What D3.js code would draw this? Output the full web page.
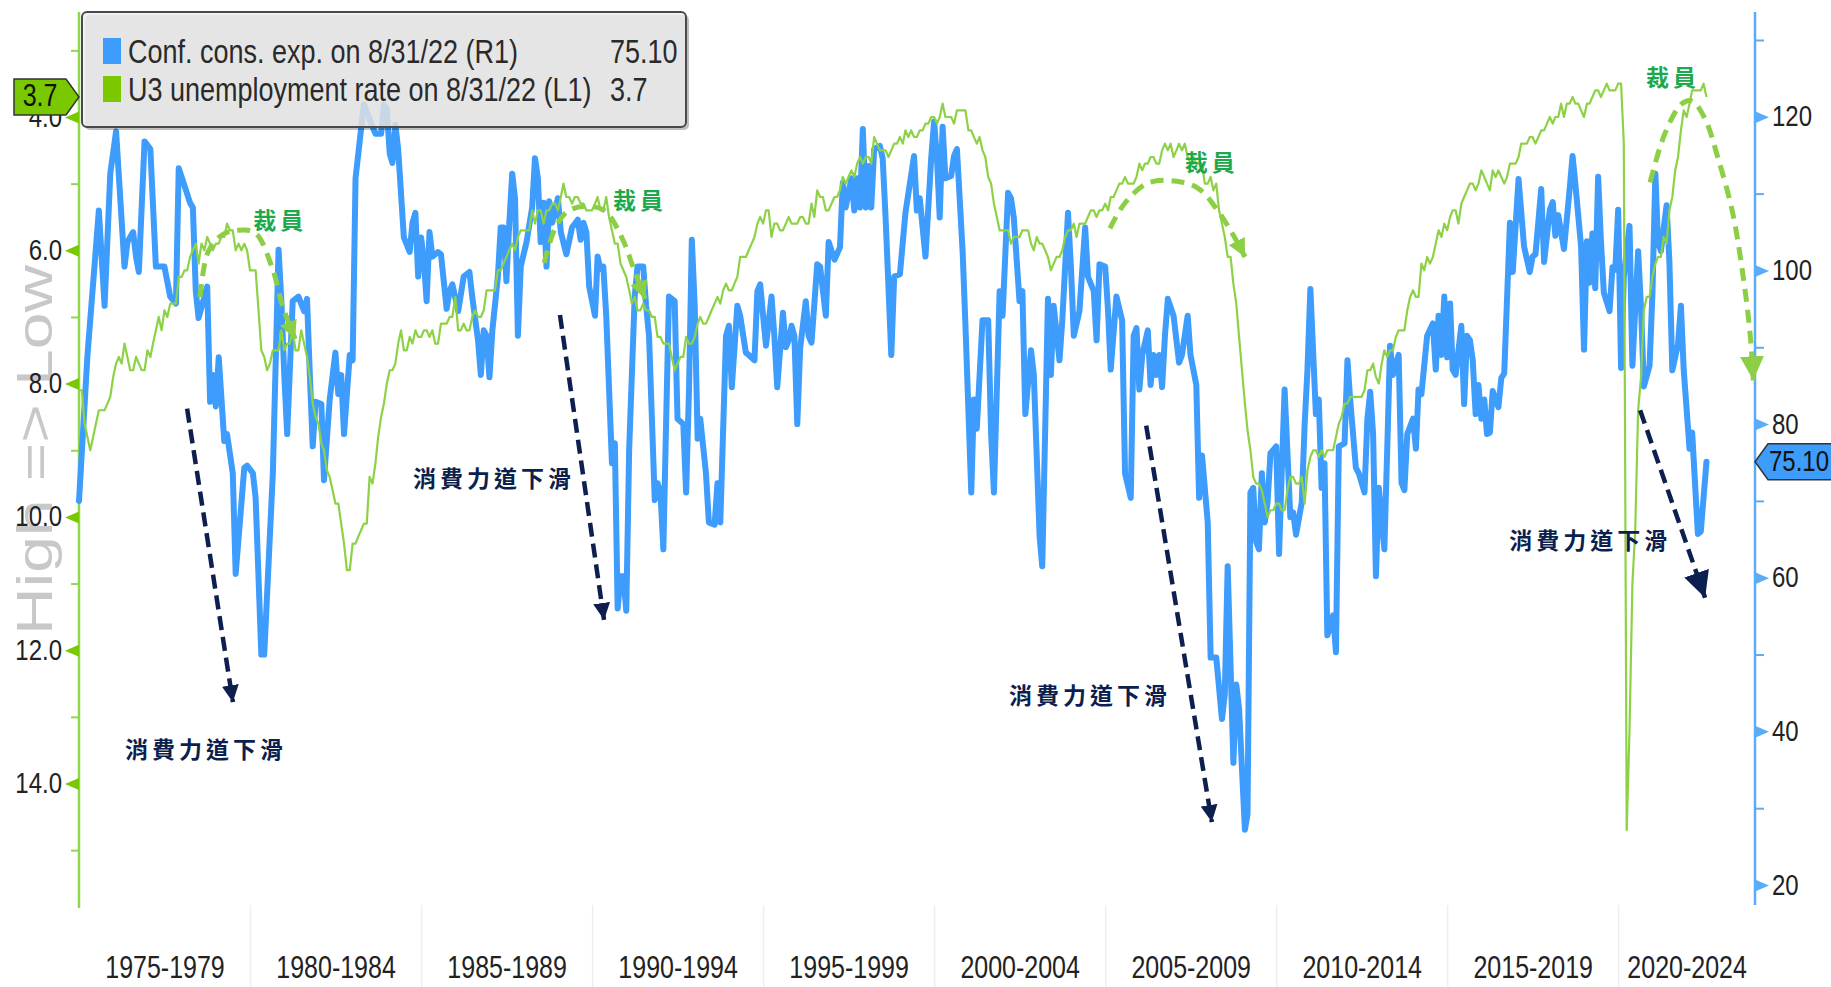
<!DOCTYPE html>
<html><head><meta charset="utf-8">
<script src="https://cdn.jsdelivr.net/npm/d3@7"></script>
<style>body{margin:0;background:#fff;overflow:hidden}svg{display:block}</style>
</head><body>
<svg id="chart" width="1831" height="987"></svg>
<script>
// ---------------- DATA ----------------
const periodStarts = [1975,1980,1985,1990,1995,2000,2005,2010,2015,2020];
const periodLabels = ["1975-1979","1980-1984","1985-1989","1990-1994","1995-1999","2000-2004","2005-2009","2010-2014","2015-2019","2020-2024"];
const leftTicks = [4,6,8,10,12,14];
const leftMinor = [3,5,7,9,11,13,15];
const rightTicks = [20,40,60,80,100,120];
const rightMinor = [30,50,70,90,110,130];

const legendLabels = ["Conf. cons. exp. on 8/31/22 (R1)","U3 unemployment rate on 8/31/22 (L1)"];
const legendValues = ["75.10","3.7"];
const lastConf = 75.10, lastUnrate = 3.7;

// U3 unemployment rate, monthly from 1975-01 (L1)
const unrateStart = "1975-01";
const unrate = [
8.1,8.1,8.6,8.8,9.0,8.8,8.6,8.4,8.4,8.4,8.3,8.2,
7.9,7.7,7.6,7.7,7.4,7.6,7.8,7.8,7.6,7.7,7.8,7.8,
7.5,7.6,7.4,7.2,7.0,7.2,6.9,7.0,6.8,6.8,6.8,6.4,
6.4,6.3,6.3,6.1,6.0,5.9,6.2,5.9,6.0,5.8,5.9,6.0,
5.9,5.9,5.8,5.8,5.6,5.7,5.7,6.0,5.9,6.0,5.9,6.0,
6.3,6.3,6.3,6.9,7.5,7.6,7.8,7.7,7.5,7.5,7.5,7.2,
7.5,7.4,7.4,7.2,7.5,7.5,7.2,7.4,7.6,7.9,8.3,8.5,
8.6,8.9,9.0,9.3,9.4,9.6,9.8,9.8,10.1,10.4,10.8,10.8,
10.4,10.4,10.3,10.2,10.1,10.1,9.4,9.5,9.2,8.8,8.5,8.3,
8.0,7.8,7.8,7.7,7.4,7.2,7.5,7.5,7.3,7.4,7.2,7.3,
7.3,7.2,7.2,7.3,7.2,7.4,7.4,7.1,7.1,7.1,7.0,7.0,
6.7,7.2,7.2,7.1,7.2,7.2,7.0,6.9,7.0,7.0,6.9,6.6,
6.6,6.6,6.6,6.3,6.3,6.2,6.1,6.0,5.9,6.0,5.8,5.7,
5.7,5.7,5.7,5.4,5.6,5.4,5.4,5.6,5.4,5.4,5.3,5.3,
5.4,5.2,5.0,5.2,5.2,5.3,5.2,5.2,5.3,5.3,5.4,5.4,
5.4,5.3,5.2,5.4,5.4,5.2,5.5,5.7,5.9,5.9,6.2,6.3,
6.4,6.6,6.8,6.7,6.9,6.9,6.8,6.9,6.9,7.0,7.0,7.3,
7.3,7.4,7.4,7.4,7.6,7.8,7.7,7.6,7.6,7.3,7.4,7.4,
7.3,7.1,7.0,7.1,7.1,7.0,6.9,6.8,6.7,6.8,6.6,6.5,
6.6,6.6,6.5,6.4,6.1,6.1,6.1,6.0,5.9,5.8,5.6,5.5,
5.6,5.4,5.4,5.8,5.6,5.6,5.7,5.7,5.6,5.5,5.6,5.6,
5.6,5.5,5.5,5.6,5.6,5.3,5.5,5.1,5.2,5.2,5.4,5.4,
5.3,5.2,5.2,5.1,4.9,5.0,4.9,4.8,4.9,4.7,4.6,4.7,
4.6,4.6,4.7,4.3,4.4,4.5,4.5,4.5,4.6,4.5,4.4,4.4,
4.3,4.4,4.2,4.3,4.2,4.3,4.3,4.2,4.2,4.1,4.1,4.0,
4.0,4.1,4.0,3.8,4.0,4.0,4.0,4.1,3.9,3.9,3.9,3.9,
4.2,4.2,4.3,4.4,4.3,4.5,4.6,4.9,5.0,5.3,5.5,5.7,
5.7,5.7,5.7,5.9,5.8,5.8,5.8,5.7,5.7,5.7,5.9,6.0,
5.8,5.9,5.9,6.0,6.1,6.3,6.2,6.1,6.1,6.0,5.8,5.7,
5.7,5.6,5.8,5.6,5.6,5.6,5.5,5.4,5.4,5.5,5.4,5.4,
5.3,5.4,5.2,5.2,5.1,5.0,5.0,4.9,5.0,5.0,5.0,4.9,
4.7,4.8,4.7,4.7,4.6,4.6,4.7,4.7,4.5,4.4,4.5,4.4,
4.6,4.5,4.4,4.5,4.4,4.6,4.7,4.6,4.7,4.7,4.7,5.0,
5.0,4.9,5.1,5.0,5.4,5.6,5.8,6.1,6.1,6.5,6.8,7.3,
7.8,8.3,8.7,9.0,9.4,9.5,9.5,9.6,9.8,10.0,9.9,9.9,
9.8,9.8,9.9,9.9,9.6,9.4,9.4,9.5,9.5,9.4,9.8,9.3,
9.1,9.0,9.0,9.1,9.0,9.1,9.0,9.0,9.0,8.8,8.6,8.5,
8.3,8.3,8.2,8.2,8.2,8.2,8.2,8.1,7.8,7.8,7.7,7.9,
8.0,7.7,7.5,7.6,7.5,7.5,7.3,7.2,7.2,7.2,6.9,6.7,
6.6,6.7,6.7,6.2,6.3,6.1,6.2,6.1,5.9,5.7,5.8,5.6,
5.7,5.5,5.4,5.4,5.6,5.3,5.2,5.1,5.0,5.0,5.1,5.0,
4.8,4.9,5.0,5.1,4.8,4.9,4.8,4.9,5.0,4.9,4.7,4.7,
4.7,4.6,4.4,4.4,4.4,4.3,4.3,4.4,4.3,4.2,4.2,4.1,
4.0,4.1,4.0,4.0,3.8,4.0,3.8,3.8,3.7,3.8,3.8,3.9,
4.0,3.8,3.8,3.7,3.6,3.6,3.7,3.6,3.5,3.6,3.6,3.6,
3.5,3.5,4.4,14.7,13.2,11.0,10.2,8.4,7.9,6.9,6.7,6.7,
6.4,6.2,6.1,6.1,5.8,5.9,5.4,5.2,4.8,4.6,4.2,3.9,
4.0,3.8,3.6,3.6,3.6,3.6,3.5,3.7
];

// Conference Board consumer expectations (R1)
const confExp = [
["1975-01",70],["1975-04",88.9],["1975-08",107.8],["1975-10",95.4],["1975-12",112.6],
["1976-02",118.1],["1976-05",100.5],["1976-06",103.7],["1976-08",105],["1976-09",101.8],["1976-10",99.8],["1976-12",116.8],
["1977-02",115.8],["1977-04",100.5],["1977-07",100.5],["1977-09",96.6],["1977-11",95.7],["1977-12",113.3],
["1978-02",111],["1978-04",108.8],["1978-05",108.2],["1978-06",97.3],["1978-07",93.8],["1978-09",96.6],["1978-10",97.9],["1978-11",82.9],["1978-12",86.4],
["1979-01",82.3],["1979-02",88.7],["1979-04",77.8],["1979-05",78.7],["1979-07",73.6],["1979-08",60.5],["1979-11",74.3],["1979-12",74.6],
["1980-02",73.6],["1980-03",70.4],["1980-05",50],["1980-06",50],["1980-09",73.6],["1980-11",102.7],["1980-12",96],
["1981-01",86.4],["1981-02",78.7],["1981-04",96],["1981-06",96.6],["1981-08",94.7],["1981-09",96.3],["1981-10",86.4],["1981-11",77.1],["1981-12",82.9],
["1982-02",82.6],["1982-03",72.7],["1982-05",83.2],["1982-07",89.3],["1982-08",83.9],["1982-09",86.4],["1982-10",78.7],["1982-12",89],
["1983-01",88.3],["1983-02",112],["1983-04",118.4],["1983-05",121.6],["1983-07",119.7],["1983-09",117.8],["1983-11",117.8],["1983-12",121.6],
["1984-01",121],["1984-02",115.2],["1984-03",114],["1984-04",119],["1984-05",115.8],["1984-07",104.3],["1984-09",102.4],["1984-10",106.2],["1984-11",107.5],["1984-12",99.2],
["1985-01",104.3],["1985-02",101.1],["1985-03",96],["1985-04",105],["1985-05",101.8],["1985-07",102.4],["1985-08",102.1],["1985-10",95],["1985-11",97.3],["1985-12",98.2],
["1986-02",94.7],["1986-04",99.2],["1986-06",99.8],["1986-07",96.6],["1986-09",90.9],["1986-10",86.4],["1986-11",92.2],["1986-12",91.5],
["1987-01",86.1],["1987-02",92.2],["1987-04",99.2],["1987-05",105.6],["1987-06",105.6],["1987-07",98.6],["1987-08",106.2],["1987-09",112.6],["1987-10",109.4],["1987-11",91.5],["1987-12",100.5],
["1988-02",103.7],["1988-04",108.2],["1988-05",114.6],["1988-06",112],["1988-07",103.7],["1988-08",108.8],["1988-09",100.5],["1988-10",109],["1988-11",106.2],
["1989-01",109.4],["1989-02",105],["1989-04",102.1],["1989-06",105.6],["1989-08",106.6],["1989-09",104],["1989-10",106.2],["1989-11",105],["1989-12",97.9],
["1990-02",94.1],["1990-03",101.8],["1990-04",100.2],["1990-05",100.5],["1990-06",94.1],["1990-08",74.9],["1990-09",77.5],["1990-10",56],["1990-11",60.2],["1990-12",60.2],
["1991-01",55.7],["1991-02",76.8],["1991-04",96.6],["1991-05",100.5],["1991-07",100.5],["1991-08",95.4],["1991-09",91.5],["1991-11",70.1],["1991-12",72.3],
["1992-01",71.1],["1992-02",63.7],["1992-03",80],["1992-04",96.6],["1992-06",96],["1992-07",80.7],["1992-09",80],["1992-10",71.1],["1992-11",84.5],["1992-12",104],
["1993-01",95.4],["1993-02",78.1],["1993-03",80.7],["1993-05",73.6],["1993-06",67.2],["1993-08",66.9],["1993-09",72.3],["1993-10",67.2],["1993-12",91.5],
["1994-01",92.8],["1994-02",84.8],["1994-04",95.4],["1994-05",94.1],["1994-07",89.3],["1994-08",89],["1994-10",88.3],["1994-11",97.3],["1994-12",98.2],
["1995-01",94.1],["1995-02",90.2],["1995-04",96.6],["1995-05",91.5],["1995-06",84.8],["1995-08",94.5],["1995-09",90],["1995-10",90.9],["1995-11",92.8],["1995-12",91.5],
["1996-01",80],["1996-02",89.9],["1996-04",96],["1996-05",91.5],["1996-06",90.6],["1996-08",100.8],["1996-09",100.5],["1996-11",94.1],["1996-12",103.7],
["1997-02",101.4],["1997-04",103],["1997-05",111.4],["1997-06",108.2],["1997-08",112],["1997-09",107.8],["1997-10",112],["1997-11",108.2],["1997-12",118.4],
["1998-01",108.2],["1998-02",113.6],["1998-03",108.2],["1998-04",115.8],["1998-06",116.2],["1998-07",114.6],["1998-08",106.9],["1998-10",89],["1998-11",99.2],
["1999-01",99.5],["1999-03",107.5],["1999-06",114.9],["1999-07",107.8],["1999-08",109.4],["1999-10",101.8],["1999-12",114.6],
["2000-01",119.4],["2000-02",114.6],["2000-03",106.9],["2000-04",118.7],["2000-05",112],["2000-07",112.3],["2000-08",114.9],["2000-09",115.8],["2000-11",102.4],["2000-12",92.8],
["2001-02",71.1],["2001-03",83.2],["2001-04",79.4],["2001-06",93.5],["2001-08",93.5],["2001-09",78.7],["2001-10",71.1],["2001-12",97.3],
["2002-01",94.1],["2002-03",110.1],["2002-04",109.4],["2002-05",106.9],["2002-07",96],["2002-08",97.3],["2002-09",81.3],["2002-11",89.6],["2002-12",86.4],
["2003-02",65.3],["2003-03",61.5],["2003-05",96.3],["2003-06",86.4],["2003-07",95.4],["2003-09",88.3],["2003-10",93.5],["2003-12",107.5],
["2004-01",100.5],["2004-02",91.5],["2004-04",94.7],["2004-06",105.6],["2004-07",99.2],["2004-09",97.3],["2004-10",90.9],["2004-11",100.8],
["2005-01",100.5],["2005-02",94.7],["2005-03",87.1],["2005-05",96.6],["2005-07",93.5],["2005-08",73.6],["2005-10",70.4],["2005-11",91.5],["2005-12",92.5],
["2006-01",84.5],["2006-02",89],["2006-04",92.2],["2006-05",85.1],["2006-06",89],["2006-07",86.4],["2006-08",89],["2006-09",84.8],["2006-10",91.5],["2006-11",96.3],
["2007-01",94.1],["2007-03",88],["2007-04",89],["2007-06",94.1],["2007-07",89],["2007-09",85.1],["2007-10",70.4],["2007-11",75.9],
["2008-01",67.2],["2008-02",49.6],["2008-04",49.6],["2008-06",41.6],["2008-07",44.8],["2008-08",61.5],["2008-10",35.9],["2008-11",46.1],["2008-12",42.9],
["2009-02",27.2],["2009-03",29.2],["2009-04",71.1],["2009-05",71.7],["2009-06",64.7],["2009-07",63.7],["2009-08",73.6],["2009-09",67.2],["2009-10",69.8],["2009-11",76.2],
["2010-01",77.1],["2010-02",63.1],["2010-03",73.6],["2010-04",84.5],["2010-06",67.9],["2010-07",68.5],["2010-08",65.6],["2010-10",69.8],["2010-11",80],["2010-12",87.1],
["2011-01",97.6],["2011-03",81.3],["2011-04",83.2],["2011-05",71.7],["2011-06",74.9],["2011-07",52.5],["2011-09",55.1],["2011-10",50.3],["2011-11",77.1],
["2012-01",77.5],["2012-02",88.3],["2012-03",83.2],["2012-05",74.3],["2012-06",73.6],["2012-08",71.1],["2012-09",80.7],["2012-10",84.2],["2012-11",78.7],["2012-12",60.2],
["2013-01",71.7],["2013-03",63.7],["2013-04",76.8],["2013-05",90.2],["2013-06",86.4],["2013-08",89],["2013-09",72.3],["2013-10",71.4],["2013-11",78.7],
["2014-01",80.7],["2014-02",76.8],["2014-03",84.5],["2014-04",83.9],["2014-06",91.5],["2014-08",93.1],["2014-09",87.1],["2014-10",94.1],["2014-11",89],["2014-12",96.6],
["2015-01",88.7],["2015-02",95.7],["2015-03",87.1],["2015-04",86.4],["2015-06",92.8],["2015-07",82.6],["2015-08",91.5],["2015-09",90.9],["2015-10",88.3],["2015-11",81.3],["2015-12",85.1],
["2016-01",80.7],["2016-02",83.2],["2016-03",78.7],["2016-04",78.9],["2016-05",84.3],["2016-07",82.2],["2016-08",86],["2016-09",86.6],["2016-11",106.2],["2016-12",99.8],
["2017-02",111.9],["2017-04",103.1],["2017-06",99.8],["2017-07",101.8],["2017-08",102.1],["2017-10",110.6],["2017-11",101.1],
["2018-01",107.9],["2018-02",108.9],["2018-03",104.5],["2018-04",107.2],["2018-06",102.8],["2018-08",110.6],["2018-09",114.9],["2018-10",111.2],["2018-12",103.1],
["2019-01",89.7],["2019-02",103.8],["2019-03",98.4],["2019-04",104.8],["2019-05",97.7],["2019-06",112.2],["2019-07",103.8],["2019-08",97.1],["2019-10",94.7],["2019-11",100.4],["2019-12",100.1],
["2020-01",107.9],["2020-02",87.3],["2020-03",99.1],["2020-05",105.8],["2020-06",87.6],["2020-08",102.5],["2020-09",95.1],["2020-10",84.9],["2020-12",87.6],
["2021-01",97.1],["2021-02",112.6],["2021-03",103.8],["2021-04",102.5],["2021-06",108.5],["2021-07",101.1],["2021-08",87],["2021-10",90.4],["2021-11",95.4],["2021-12",87],
["2022-02",76.8],["2022-03",78.9],["2022-05",65.7],["2022-06",66],["2022-08",75.1]
];

// Annotations (decimal year, axis value)
const slideText = "消費力道下滑";
const slideArrows = [ // from [year, R1] to [year, R1]
  [[1978.16,82.0],[1979.50,43.8]],
  [[1989.06,94.2],[1990.35,54.5]],
  [[2006.20,79.8],[2008.12,28.2]],
  [[2020.64,81.8],[2022.54,57.4]]
];
const slideLabels = [[1978.71,37.6],[1987.13,72.9],[2004.56,44.7],[2019.18,64.8]];
const layoffText = "裁員";
const layoffLabels = [[1980.88,5.56],[1991.40,5.26],[2008.12,4.69],[2021.60,3.41]]; // [year, L1]
const layoffArcs = [ // [year, L1]
  [[1978.54,6.70],[1978.77,6.03],[1979.18,5.77],[1979.65,5.70],[1980.15,5.74],[1980.64,6.25],[1980.96,6.85],[1981.32,7.33]],
  [[1988.60,6.19],[1988.92,5.67],[1989.30,5.41],[1989.88,5.34],[1990.38,5.41],[1990.88,5.82],[1991.20,6.25],[1991.55,6.73]],
  [[2005.14,5.67],[2005.58,5.29],[2006.25,4.99],[2007.04,4.96],[2007.72,5.07],[2008.30,5.41],[2008.71,5.74],[2009.09,6.10]],
  [[2020.93,4.98],[2021.37,4.24],[2021.86,3.80],[2022.16,3.76],[2022.54,4.03],[2022.92,4.62],[2023.33,5.40],[2023.62,6.27],[2023.86,7.27],[2023.95,7.95]]
];

// ---------------- CHART ----------------
const W = 1831, H = 987;
const C = {
  blue: "#3d9cfc", blueAxis: "#5aacf8", green: "#8dd246", greenAxis: "#8fd84a",
  greenTag: "#7ac800", navy: "#0d1f4e", arcGreen: "#8ccf45", layoffGreen: "#1ea84c",
  text: "#222"
};
const FONT = "'Liberation Sans', Arial, sans-serif";
const CJK = "'Noto Sans CJK TC','Noto Sans CJK SC',sans-serif";
const SY = 1.25;

const parseMonth = d3.timeParse("%Y-%m");
function yearDate(y){ const y0=Math.floor(y); const a=new Date(y0,0,1), b=new Date(y0+1,0,1); return new Date(+a + (y-y0)*(b-a)); }

const x = d3.scaleTime().domain([new Date(1975,0,1), new Date(2024,0,1)]).range([79,1755]);
const yL = d3.scaleLinear().domain([4,14]).range([117,783.5]);
const yR = d3.scaleLinear().domain([20,120]).range([885,116.8]);

const svg = d3.select("#chart");
svg.append("rect").attr("width",W).attr("height",H).attr("fill","#fff");

const defs = svg.append("defs");
function marker(id, color, size){
  defs.append("marker").attr("id",id).attr("markerUnits","userSpaceOnUse")
    .attr("viewBox","0 0 10 10").attr("refX",10).attr("refY",5)
    .attr("markerWidth",size).attr("markerHeight",size).attr("orient","auto")
    .append("path").attr("d","M0,0L10,5L0,10Z").attr("fill",color);
}
marker("headNavy", C.navy, 17);
marker("headNavyBig", C.navy, 26);
marker("headGreen", C.arcGreen, 18);
marker("headGreenBig", C.arcGreen, 24);

// x separators + labels
const bounds = periodStarts.slice(1).map(y => new Date(y,0,1));
const gSep = svg.append("g").attr("transform","translate(0,905)")
  .call(d3.axisBottom(x).tickValues(bounds).tickSize(82).tickFormat(""));
gSep.select(".domain").remove();
gSep.selectAll(".tick line").attr("stroke","#eeeeee").attr("stroke-width",1.5);

const centers = periodStarts.map(y => {
  const a = x(new Date(y,0,1)), b = Math.min(x(new Date(y+5,0,1)), x.range()[1]);
  return x.invert((a+b)/2);
});
const gX = svg.append("g").attr("transform","translate(0,905)")
  .call(d3.axisBottom(x).tickValues(centers).tickSize(0).tickFormat((d,i)=>periodLabels[i]));
gX.select(".domain").remove();
gX.attr("font-family",FONT).attr("font-size",25);
gX.selectAll(".tick text").attr("y",null).attr("dy",null).attr("fill",C.text)
  .attr("transform",`translate(0,73) scale(1,${SY})`);

// "High => Low" rotated label
svg.append("text").attr("transform","translate(52,450) rotate(-90)")
  .attr("text-anchor","middle").attr("font-family",FONT).attr("font-size",50)
  .attr("textLength",370).attr("lengthAdjust","spacingAndGlyphs")
  .attr("fill","#c8c8c8").text("High => Low");

// Left axis (L1)
const gL = svg.append("g").attr("transform","translate(79,0)");
gL.append("line").attr("y1",12).attr("y2",908).attr("stroke",C.greenAxis).attr("stroke-width",2.5);
const gLm = gL.append("g").call(d3.axisLeft(yL).tickValues(leftMinor).tickSize(8).tickFormat(""));
gLm.select(".domain").remove();
gLm.selectAll(".tick line").attr("stroke",C.greenAxis).attr("stroke-width",2);
const gLM = gL.append("g").call(d3.axisLeft(yL).tickValues(leftTicks).tickSize(0).tickPadding(17).tickFormat(d3.format(".1f")));
gLM.select(".domain").remove();
gLM.attr("font-family",FONT).attr("font-size",24);
gLM.selectAll(".tick").append("path").attr("d","M0,-6L-14,0L0,6Z").attr("fill",C.greenTag);
gLM.selectAll(".tick text").attr("fill",C.text).attr("dy","0.3em")
  .attr("transform",`scale(1,${SY})`);

// Right axis (R1)
const gR = svg.append("g").attr("transform","translate(1755,0)");
gR.append("line").attr("y1",12).attr("y2",905).attr("stroke",C.blueAxis).attr("stroke-width",2.5);
const gRm = gR.append("g").call(d3.axisRight(yR).tickValues(rightMinor).tickSize(9).tickFormat(""));
gRm.select(".domain").remove();
gRm.selectAll(".tick line").attr("stroke",C.blueAxis).attr("stroke-width",2);
const gRM = gR.append("g").call(d3.axisRight(yR).tickValues(rightTicks).tickSize(0).tickPadding(17).tickFormat(d3.format("d")));
gRM.select(".domain").remove();
gRM.attr("font-family",FONT).attr("font-size",24);
gRM.selectAll(".tick").append("path").attr("d","M0,-6L14,0L0,6Z").attr("fill",C.blueAxis);
gRM.selectAll(".tick text").attr("fill",C.text).attr("dy","0.3em")
  .attr("transform",`scale(1,${SY})`);

// Series
const confData = confExp.map(d => ({date: parseMonth(d[0]), value: d[1]}));
const startM = parseMonth(unrateStart);
const unData = unrate.map((v,i) => ({date: d3.timeMonth.offset(startM,i), value: v}));

svg.append("path").datum(confData)
  .attr("fill","none").attr("stroke",C.blue).attr("stroke-width",6)
  .attr("stroke-linejoin","round").attr("stroke-linecap","round")
  .attr("d", d3.line().x(d=>x(d.date)).y(d=>yR(d.value)));
svg.append("path").datum(unData)
  .attr("fill","none").attr("stroke",C.green).attr("stroke-width",2.2)
  .attr("stroke-linejoin","round")
  .attr("d", d3.line().x(d=>x(d.date)).y(d=>yL(d.value)));

// Annotations
const gA = svg.append("g");
slideArrows.forEach((a,i) => {
  gA.append("line")
    .attr("x1",x(yearDate(a[0][0]))).attr("y1",yR(a[0][1]))
    .attr("x2",x(yearDate(a[1][0]))).attr("y2",yR(a[1][1]))
    .attr("stroke",C.navy).attr("stroke-width",4.5).attr("stroke-dasharray","14,7")
    .attr("marker-end", i===3 ? "url(#headNavyBig)" : "url(#headNavy)");
});
slideLabels.forEach(p => {
  gA.append("text").attr("x",x(yearDate(p[0]))).attr("y",yR(p[1]))
    .attr("text-anchor","middle").attr("dy","0.36em")
    .attr("font-family",CJK).attr("font-size",23).attr("font-weight",700)
    .attr("letter-spacing","4px").attr("fill",C.navy).text(slideText);
});
const arcLine = d3.line().x(d=>x(yearDate(d[0]))).y(d=>yL(d[1])).curve(d3.curveCatmullRom.alpha(0.5));
layoffArcs.forEach((pts,i) => {
  gA.append("path").attr("d",arcLine(pts)).attr("fill","none")
    .attr("stroke",C.arcGreen).attr("stroke-width",5).attr("stroke-dasharray","13,8")
    .attr("marker-end", i===3 ? "url(#headGreenBig)" : "url(#headGreen)");
});
layoffLabels.forEach(p => {
  gA.append("text").attr("x",x(yearDate(p[0]))).attr("y",yL(p[1]))
    .attr("text-anchor","middle").attr("dy","0.36em")
    .attr("font-family",CJK).attr("font-size",23).attr("font-weight",700)
    .attr("letter-spacing","4px").attr("fill",C.layoffGreen).text(layoffText);
});

// Legend
const gLeg = svg.append("g");
gLeg.append("rect").attr("x",85).attr("y",15).attr("width",604).attr("height",115).attr("rx",5)
  .attr("fill","#000").attr("opacity",0.25);
gLeg.append("rect").attr("x",82).attr("y",12).attr("width",604).attr("height",115).attr("rx",5)
  .attr("fill","#efefef").attr("fill-opacity",0.8).attr("stroke","#4a4a4a").attr("stroke-width",2);
const legColors = [C.blue, C.greenTag];
const legRows = [38, 76];
legendLabels.forEach((lab,i) => {
  gLeg.append("rect").attr("x",103).attr("y",legRows[i]).attr("width",18).attr("height",26).attr("fill",legColors[i]);
  gLeg.append("text").attr("transform",`translate(128,${legRows[i]+25}) scale(1,${SY})`)
    .attr("font-family",FONT).attr("font-size",27).attr("fill","#2a2a2a").text(lab);
  gLeg.append("text").attr("transform",`translate(610,${legRows[i]+25}) scale(1,${SY})`)
    .attr("font-family",FONT).attr("font-size",27).attr("fill","#2a2a2a").text(legendValues[i]);
});

// Value tags
const tyL = yL(lastUnrate);
svg.append("path").attr("d",`M14,${tyL-18}L66,${tyL-18}L79,${tyL}L66,${tyL+18}L14,${tyL+18}Z`)
  .attr("fill",C.greenTag).attr("stroke","#333").attr("stroke-width",1.5);
svg.append("text").attr("transform",`translate(40,${tyL+9}) scale(1,${SY})`).attr("text-anchor","middle")
  .attr("font-family",FONT).attr("font-size",25).attr("fill","#111").text(d3.format(".1f")(lastUnrate));
const tyR = yR(lastConf);
svg.append("path").attr("d",`M1755,${tyR}L1768,${tyR-18}L1840,${tyR-18}L1840,${tyR+18}L1768,${tyR+18}Z`)
  .attr("fill",C.blue).attr("stroke","#333").attr("stroke-width",1.5);
svg.append("text").attr("transform",`translate(1769,${tyR+9}) scale(1,${SY})`)
  .attr("font-family",FONT).attr("font-size",24).attr("fill","#111").text(d3.format(".2f")(lastConf));
</script>
</body></html>
